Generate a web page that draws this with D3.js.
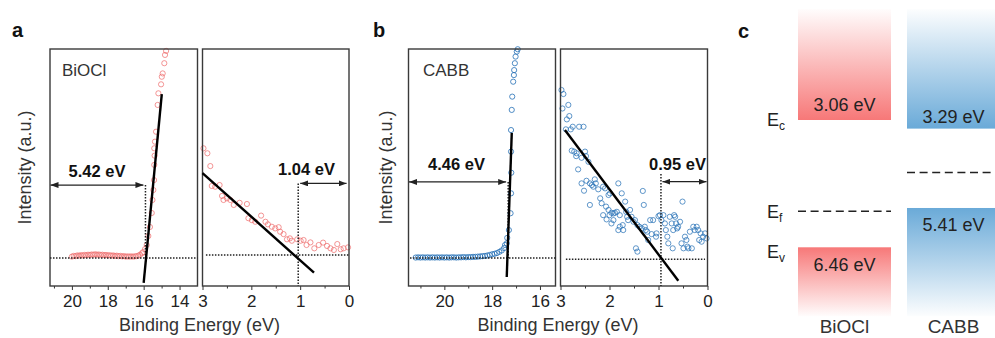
<!DOCTYPE html>
<html>
<head>
<meta charset="utf-8">
<script src="https://cdn.jsdelivr.net/npm/d3@7"></script>
<style>
  body { margin: 0; background: #fff; }
  text { font-family: "Liberation Sans", Arial, Helvetica, sans-serif; }
</style>
</head>
<body>
<svg id="chart" width="995" height="338"></svg>
<script>
// ---- values: [binding energy (eV), intensity (a.u.)] ----
const bioclCutoff = [
  [20.0,0.124],[19.9,0.127],[19.8,0.126],[19.7,0.129],[19.6,0.128],[19.5,0.130],[19.4,0.129],[19.3,0.131],
  [19.2,0.130],[19.1,0.132],[19.0,0.131],[18.9,0.133],[18.8,0.132],[18.7,0.134],[18.6,0.132],[18.5,0.133],
  [18.4,0.131],[18.3,0.132],[18.2,0.130],[18.1,0.131],[18.0,0.129],[17.9,0.130],[17.8,0.128],[17.7,0.129],
  [17.6,0.127],[17.5,0.128],[17.4,0.126],[17.3,0.127],[17.2,0.125],[17.1,0.126],[17.0,0.124],[16.9,0.125],
  [16.8,0.124],[16.7,0.125],[16.6,0.124],[16.5,0.125],[16.4,0.126],[16.3,0.128],[16.2,0.132],[16.1,0.138],
  [16.03,0.143],[15.92,0.156],[15.83,0.173],[15.74,0.211],[15.65,0.249],[15.55,0.308],[15.51,0.363],
  [15.46,0.405],[15.42,0.447],[15.41,0.511],[15.39,0.55],[15.41,0.581],[15.37,0.609],[15.31,0.651],
  [15.22,0.764],[15.18,0.813],[15.03,0.851],[14.99,0.883],[14.94,0.897],[14.85,0.940],[14.81,0.975],[14.75,0.992]
];
const bioclValence = [
  [2.98,0.581],[2.90,0.560],[2.84,0.506],[2.81,0.422],[2.74,0.419],[2.65,0.426],[2.60,0.380],[2.57,0.363],
  [2.50,0.370],[2.43,0.363],[2.36,0.342],[2.24,0.351],[2.09,0.346],[2.06,0.286],[1.99,0.278],[1.92,0.271],
  [1.80,0.297],[1.71,0.271],[1.66,0.260],[1.58,0.250],[1.51,0.243],[1.44,0.248],[1.41,0.229],[1.34,0.219],
  [1.27,0.197],[1.21,0.201],[1.17,0.191],[1.06,0.197],[0.99,0.191],[0.93,0.194],[0.87,0.173],[0.79,0.184],
  [0.71,0.159],[0.62,0.173],[0.53,0.183],[0.45,0.169],[0.38,0.159],[0.31,0.152],[0.24,0.177],[0.17,0.155],
  [0.11,0.159],[0.02,0.163]
];
const cabbCutoff = [
  [21.2,0.120],[21.1,0.121],[21.0,0.120],[20.9,0.121],[20.8,0.120],[20.7,0.121],[20.6,0.120],[20.5,0.121],
  [20.4,0.120],[20.3,0.121],[20.2,0.120],[20.1,0.121],[20.0,0.120],[19.9,0.121],[19.8,0.120],[19.7,0.121],
  [19.6,0.121],[19.5,0.120],[19.4,0.121],[19.3,0.121],[19.2,0.122],[19.1,0.121],[19.0,0.122],[18.9,0.122],
  [18.8,0.123],[18.7,0.123],[18.6,0.124],[18.5,0.125],[18.4,0.126],[18.3,0.127],[18.2,0.129],[18.1,0.131],
  [18.0,0.134],[17.9,0.136],[17.8,0.139],[17.7,0.144],[17.6,0.150],[17.5,0.160],[17.46,0.173],[17.39,0.180],
  [17.37,0.203],[17.30,0.236],[17.23,0.307],[17.21,0.391],[17.20,0.478],[17.21,0.567],[17.21,0.658],
  [17.18,0.743],[17.16,0.799],[17.12,0.862],[17.09,0.890],[17.08,0.911],[17.05,0.940],[17.02,0.968],
  [16.97,0.989],[16.93,0.999]
];
const cabbValence = [
  [2.98,0.827],[2.94,0.810],[2.96,0.749],[2.84,0.764],[2.87,0.703],[2.82,0.717],[2.89,0.661],[2.79,0.661],
  [2.75,0.672],[2.62,0.672],[2.53,0.672],[2.77,0.571],[2.72,0.567],[2.68,0.548],[2.67,0.560],[2.57,0.541],
  [2.50,0.567],[2.48,0.548],[2.43,0.524],[2.64,0.492],[2.57,0.433],[2.47,0.444],[2.52,0.402],[2.40,0.433],
  [2.36,0.426],[2.30,0.450],[2.33,0.419],[2.28,0.433],[2.23,0.408],[2.19,0.370],[2.16,0.349],[2.13,0.419],
  [2.09,0.412],[2.02,0.384],[1.99,0.391],[2.40,0.342],[2.07,0.335],[2.13,0.299],[2.02,0.321],[2.06,0.281],
  [1.96,0.309],[1.92,0.306],[1.89,0.309],[1.85,0.313],[1.82,0.433],[1.79,0.299],[1.75,0.391],[1.79,0.250],
  [1.73,0.257],[1.68,0.356],[1.66,0.313],[1.64,0.292],[1.58,0.321],[1.62,0.278],[1.55,0.292],[1.51,0.271],
  [1.48,0.278],[1.43,0.257],[1.39,0.250],[1.34,0.243],[1.32,0.401],[1.30,0.342],[1.28,0.250],[1.26,0.236],
  [1.23,0.229],[1.21,0.194],[1.17,0.278],[1.14,0.219],[1.11,0.278],[1.05,0.208],[1.04,0.222],[1.00,0.295],
  [0.97,0.299],[0.94,0.278],[0.90,0.299],[0.87,0.264],[0.85,0.236],[0.82,0.208],[0.80,0.180],[0.77,0.292],
  [0.73,0.264],[0.70,0.236],[0.68,0.299],[0.66,0.292],[0.64,0.264],[0.62,0.243],[0.60,0.250],[0.56,0.271],
  [0.53,0.180],[0.51,0.356],[0.49,0.159],[0.46,0.208],[0.43,0.194],[0.41,0.166],[0.39,0.159],[0.36,0.229],
  [0.32,0.159],[0.29,0.250],[0.26,0.236],[0.22,0.250],[0.19,0.236],[0.17,0.194],[0.14,0.222],[0.12,0.187],
  [0.09,0.208],[0.05,0.222],[0.02,0.201],[1.46,0.159],[1.43,0.145],[0.71,0.159],[1.72,0.236],[1.82,0.236],
  [1.92,0.278],[1.96,0.264],[2.00,0.299]
];

// linear fits drawn on the spectra: [[x0,y0],[x1,y1]]
const bioclCutoffFit  = [[16.0,0.013],[14.99,0.810]];
const bioclValenceFit = [[3.0,0.476],[0.717,0.056]];
const cabbCutoffFit   = [[17.39,0.038],[17.18,0.646]];
const cabbValenceFit  = [[2.91,0.658],[0.596,0.022]];

// baselines and onsets (eV / intensity)
const bioclCutBase = 0.118, bioclCutEdge = 15.9, bioclCutArrowY = 0.426;
const bioclVbBase = 0.131, bioclVbEdge = 1.04, bioclVbArrowY = 0.433;
const cabbCutBase = 0.118, cabbCutEdge = 17.33, cabbCutArrowY = 0.439;
const cabbVbBase = 0.113, cabbVbEdge = 0.95, cabbVbArrowY = 0.44, cabbVbEdgeTop = 0.473;

const gapLabels = ["5.42 eV", "1.04 eV", "4.46 eV", "0.95 eV"];

// tick values
const cutMajorA = [20, 18, 16, 14], cutMinorA = [21, 19, 17, 15];
const cutMajorB = [20, 18, 16],     cutMinorB = [21, 19, 17];
const vbMajor = [3, 2, 1, 0],       vbMinor = [2.5, 1.5, 0.5];

// band diagram (eV below vacuum)
const materials = ["BiOCl", "CABB"];
const cbEnergy = [3.06, 3.29];
const vbEnergy = [6.46, 5.41];
const efEnergy = [5.50, 4.46];
const bandTop = 0.1, bandBottom = 8.3;
const bandColors = ["#f77878", "#6aaad8"];

// ---- drawing ----
const svg = d3.select("#chart");
svg.append("rect").attr("width", 995).attr("height", 338).attr("fill", "#fff");

const defs = svg.append("defs");
defs.append("marker").attr("id", "head")
  .attr("viewBox", "0 0 8 6").attr("refX", 8).attr("refY", 3)
  .attr("markerWidth", 8).attr("markerHeight", 6)
  .attr("markerUnits", "userSpaceOnUse").attr("orient", "auto-start-reverse")
  .append("path").attr("d", "M0,0L8,3L0,6Z").attr("fill", "#222");

const y = d3.scaleLinear().domain([0, 1]).range([286, 49]);

function panel(domain, range, major, minor, data, color, opacity) {
  const x = d3.scaleLinear().domain(domain).range(range);
  const g = svg.append("g");

  g.append("g").attr("transform", `translate(0,${y(0)})`)
    .call(d3.axisBottom(x).tickValues(minor).tickSize(2.5).tickFormat(""))
    .call(a => a.select(".domain").remove())
    .call(a => a.selectAll("line").attr("stroke", "#333"));

  g.append("g").attr("transform", `translate(0,${y(0)})`)
    .call(d3.axisBottom(x).tickValues(major).tickSize(4).tickPadding(5).tickFormat(d3.format("d")))
    .call(a => a.select(".domain").remove())
    .call(a => a.selectAll("line").attr("stroke", "#333"))
    .call(a => a.selectAll("text").attr("font-size", 17).attr("fill", "#222")
      .attr("font-family", "'Liberation Sans', Arial, sans-serif"));

  g.selectAll("circle").data(data).join("circle")
    .attr("cx", d => x(d[0])).attr("cy", d => y(d[1])).attr("r", 2.6)
    .attr("fill", "none").attr("stroke", color).attr("stroke-opacity", opacity).attr("stroke-width", 1);

  g.append("rect")
    .attr("x", range[0]).attr("y", y(1)).attr("width", range[1] - range[0]).attr("height", y(0) - y(1))
    .attr("fill", "none").attr("stroke", "#3a3a3a").attr("stroke-width", 1.4);
  return { x, g };
}

function dotted(g, x1, y1, x2, y2) {
  g.append("line").attr("x1", x1).attr("y1", y1).attr("x2", x2).attr("y2", y2)
    .attr("stroke", "#222").attr("stroke-width", 1.5).attr("stroke-dasharray", "1.5,1.5");
}
function fit(g, x, pts) {
  g.append("line").attr("x1", x(pts[0][0])).attr("y1", y(pts[0][1]))
    .attr("x2", x(pts[1][0])).attr("y2", y(pts[1][1]))
    .attr("stroke", "#000").attr("stroke-width", 2.4);
}
function arrow(g, x1, x2, yy) {
  g.append("line").attr("x1", x1).attr("y1", yy).attr("x2", x2).attr("y2", yy)
    .attr("stroke", "#222").attr("stroke-width", 1.2)
    .attr("marker-start", "url(#head)").attr("marker-end", "url(#head)");
}
function label(g, text, xx, yy) {
  g.append("text").attr("x", xx).attr("y", yy).attr("text-anchor", "middle")
    .attr("font-size", 16.5).attr("font-weight", "bold").attr("fill", "#111").text(text);
}

const red = "#ee6e6e", blue = "#2570b6";

// panel a
const aL = panel([21.22, 13.0], [50, 197.5], cutMajorA, cutMinorA, bioclCutoff, red, 0.72);
dotted(aL.g, 50, y(bioclCutBase), 197.5, y(bioclCutBase));
dotted(aL.g, aL.x(bioclCutEdge), y(bioclCutArrowY), aL.x(bioclCutEdge), y(bioclCutBase));
fit(aL.g, aL.x, bioclCutoffFit);
arrow(aL.g, 50.5, aL.x(bioclCutEdge) - 2, y(bioclCutArrowY));
label(aL.g, gapLabels[0], 97, y(bioclCutArrowY) - 8);

const aR = panel([3, 0], [202.5, 349], vbMajor, vbMinor, bioclValence, red, 0.72);
dotted(aR.g, aR.x(2.93), y(bioclVbBase), 349, y(bioclVbBase));
dotted(aR.g, aR.x(bioclVbEdge), y(bioclVbArrowY), aR.x(bioclVbEdge), y(0));
fit(aR.g, aR.x, bioclValenceFit);
arrow(aR.g, aR.x(bioclVbEdge) + 2, aR.x(0.05), y(bioclVbArrowY));
label(aR.g, gapLabels[1], 306.5, y(bioclVbArrowY) - 8);

// panel b
const bL = panel([21.5, 15.35], [408.5, 555.5], cutMajorB, cutMinorB, cabbCutoff, blue, 0.8);
dotted(bL.g, 410, y(cabbCutBase), 555.5, y(cabbCutBase));
dotted(bL.g, bL.x(cabbCutEdge), y(cabbCutArrowY), bL.x(cabbCutEdge), y(cabbCutBase));
fit(bL.g, bL.x, cabbCutoffFit);
arrow(bL.g, 409, bL.x(cabbCutEdge) - 2, y(cabbCutArrowY));
label(bL.g, gapLabels[2], 456.5, y(cabbCutArrowY) - 12);

const bR = panel([3, 0], [560.5, 707.5], vbMajor, vbMinor, cabbValence, blue, 0.72);
dotted(bR.g, bR.x(2.89), y(cabbVbBase), bR.x(0.05), y(cabbVbBase));
dotted(bR.g, bR.x(cabbVbEdge), y(cabbVbEdgeTop), bR.x(cabbVbEdge), y(0));
fit(bR.g, bR.x, cabbValenceFit);
arrow(bR.g, bR.x(cabbVbEdge) + 1.5, bR.x(0.02), y(cabbVbArrowY));
label(bR.g, gapLabels[3], 677.5, y(cabbVbArrowY) - 11.5);

// axis titles
[[199.5, 30.5], [558, 391.5]].forEach(([cx, yx]) => {
  svg.append("text").attr("x", cx).attr("y", 331).attr("text-anchor", "middle")
    .attr("font-size", 18).attr("fill", "#333").text("Binding Energy (eV)");
  svg.append("text").attr("transform", `translate(${yx},167.5) rotate(-90)`).attr("text-anchor", "middle")
    .attr("font-size", 18).attr("fill", "#333").text("Intensity (a.u.)");
});
svg.append("text").attr("x", 62).attr("y", 76).attr("font-size", 17).attr("fill", "#333").text("BiOCl");
svg.append("text").attr("x", 423).attr("y", 76).attr("font-size", 17).attr("fill", "#333").text("CABB");

// panel letters
[["a", 12, 37], ["b", 373, 37], ["c", 738, 38]].forEach(([t, px, py]) => {
  svg.append("text").attr("x", px).attr("y", py).attr("font-size", 20).attr("font-weight", "bold")
    .attr("fill", "#111").text(t);
});

// panel c: band alignment
const col = d3.scaleBand().domain(materials).range([798, 1000]).paddingInner(16 / 109).paddingOuter(0);
const ey = d3.scaleLinear().domain([cbEnergy[0], vbEnergy[0]]).range([120, 247.3]);

materials.forEach((m, i) => {
  const gc = defs.append("linearGradient").attr("id", "cb" + i).attr("x1", 0).attr("y1", 0).attr("x2", 0).attr("y2", 1);
  gc.append("stop").attr("offset", 0).attr("stop-color", bandColors[i]).attr("stop-opacity", 0.02);
  gc.append("stop").attr("offset", 1).attr("stop-color", bandColors[i]).attr("stop-opacity", 1);
  const gv = defs.append("linearGradient").attr("id", "vb" + i).attr("x1", 0).attr("y1", 0).attr("x2", 0).attr("y2", 1);
  gv.append("stop").attr("offset", 0).attr("stop-color", bandColors[i]).attr("stop-opacity", 1);
  gv.append("stop").attr("offset", 1).attr("stop-color", bandColors[i]).attr("stop-opacity", 0.02);

  svg.append("rect").attr("x", col(m)).attr("width", col.bandwidth())
    .attr("y", ey(bandTop)).attr("height", ey(cbEnergy[i]) - ey(bandTop)).attr("fill", `url(#cb${i})`);
  svg.append("rect").attr("x", col(m)).attr("width", col.bandwidth())
    .attr("y", ey(vbEnergy[i])).attr("height", ey(bandBottom) - ey(vbEnergy[i])).attr("fill", `url(#vb${i})`);
  svg.append("line").attr("x1", col(m)).attr("x2", col(m) + col.bandwidth())
    .attr("y1", ey(efEnergy[i])).attr("y2", ey(efEnergy[i]))
    .attr("stroke", "#222").attr("stroke-width", 1.5).attr("stroke-dasharray", "8,4.6");

  const cx = col(m) + col.bandwidth() / 2;
  svg.append("text").attr("x", cx).attr("y", ey(cbEnergy[i]) - (i ? 6 : 9)).attr("text-anchor", "middle")
    .attr("font-size", 18).attr("fill", "#222").text(cbEnergy[i].toFixed(2) + " eV");
  svg.append("text").attr("x", cx).attr("y", ey(vbEnergy[i]) + 23.5).attr("text-anchor", "middle")
    .attr("font-size", 18).attr("fill", "#222").text(vbEnergy[i].toFixed(2) + " eV");
  svg.append("text").attr("x", cx).attr("y", 333).attr("text-anchor", "middle")
    .attr("font-size", 19).attr("fill", "#333").text(m);
});

[["c", cbEnergy[0], 6], ["f", efEnergy[0], 7], ["v", vbEnergy[0], 11]].forEach(([s, e, off]) => {
  const t = svg.append("text").attr("x", 767).attr("y", ey(e) + off).attr("fill", "#222");
  t.append("tspan").attr("font-size", 18).text("E");
  t.append("tspan").attr("font-size", 12).attr("dy", 4).text(s);
});
</script>
</body>
</html>
